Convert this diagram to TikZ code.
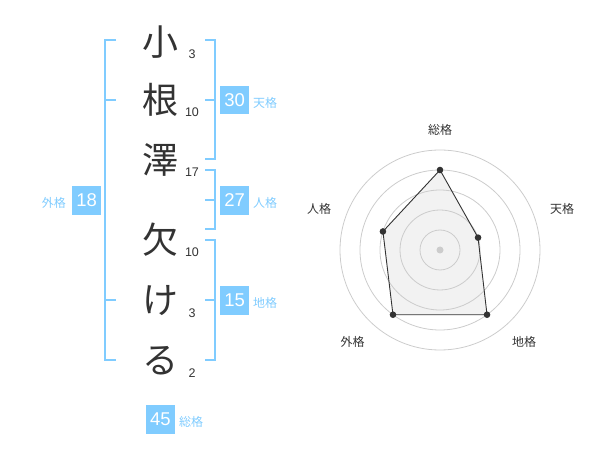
\documentclass[tikz,border=0pt]{standalone}
\usepackage{fontspec}
\setmainfont{Liberation Sans}
\newfontfamily\jp{Noto Sans CJK JP}
\usetikzlibrary{calc,positioning}
\definecolor{kakuBlue}{RGB}{128,204,255}
\definecolor{radarLine}{RGB}{51,51,51}
\definecolor{radarRing}{RGB}{204,204,204}
\definecolor{radarFill}{RGB}{242,242,242}

\tikzset{
  bracketline/.style={draw=kakuBlue, line width=1.8pt},
  kakubox/.style={fill=kakuBlue, text=white, minimum size=28.5pt, inner sep=0pt, font=\fontsize{18.5}{18.5}\selectfont},
  kakulabel/.style={text=kakuBlue, inner sep=1pt, font=\jp\fontsize{12}{12}\selectfont},
  namechar/.style={text=radarLine, inner sep=0pt, font=\jp\fontsize{36}{36}\selectfont},
  strokenum/.style={text=radarLine, inner sep=0pt, font=\fontsize{12.5}{12.5}\selectfont},
  radarlabel/.style={text=radarLine, inner sep=0pt, font=\jp\fontsize{12}{12}\selectfont}
}

\begin{document}
\begin{tikzpicture}[x=1pt,y=-1pt]
  \useasboundingbox (0,0) rectangle (600,470);

      % draw the characters and their strokes
      \foreach \ch/\yy/\st [count=\ni] in {小/42/3, 根/100/10, 澤/160/17, 欠/240/10, け/301/3, る/361/2}
      {
        \node[namechar] (c\ni) at (160,\yy) {\ch};
        \node[strokenum] (s\ni) at (192,\yy+12) {\st};
      }

      % draw the brackets
      \draw[bracketline] (116,40) -- (105,40) -- (105,360) -- (116,360);
      \foreach \yy in {100,300} \draw[bracketline] (105,\yy) -- (116,\yy);
      \foreach \ya/\yb/\ym in {40/159/100, 170/229/200, 240/360/300}
      {
        \draw[bracketline] (205,\ya) -- (215,\ya) -- (215,\yb) -- (205,\yb);
        \draw[bracketline] (215,\ym) -- (205,\ym);
      }

      % draw the boxes of each kaku
      \node[kakubox] (ten) at (234.7,100) {30};
      \node[kakulabel, anchor=west] (tenL) at (252,102.5) {天格};
      \node[kakubox] (jin) at (234.7,200.3) {27};
      \node[kakulabel, anchor=west] (jinL) at (252,202.5) {人格};
      \node[kakubox] (chi) at (234.7,300.3) {15};
      \node[kakulabel, anchor=west] (chiL) at (252,302.5) {地格};
      \node[kakubox] (gai) at (86.7,200.3) {18};
      \node[kakulabel, anchor=east] (gaiL) at (67,202.5) {外格};
      \node[kakubox] (sou) at (160.5,419.5) {45};
      \node[kakulabel, anchor=west] (souL) at (178,422) {総格};

      % the values of the radar
      \coordinate (rc) at (440,250);
      \def\radar{90/80/sou, 18/40/ten, -54/80/chi, -126/80/gai, 162/60/jin}
      \foreach \a/\r/\n in \radar
      \coordinate (p\n) at ($(rc)+({cos(\a)*\r},{-sin(\a)*\r})$);
      \fill[radarFill] (psou) -- (pten) -- (pchi) -- (pgai) -- (pjin) -- cycle;

      % draw the radar rings
      \foreach \r in {20,40,...,100}
      \draw[radarRing, line width=0.8pt] (rc) circle [radius=\r];
      \fill[radarRing] (rc) circle [radius=3.5];

      % draw the path of the values
      \draw[radarLine, line width=0.9pt]
        (psou) -- (pten) -- (pchi) -- (pgai) -- (pjin) -- cycle;
      \foreach \a/\r/\n in \radar
      \fill[radarLine] (p\n) circle [radius=3.3];

      % label all the axes
      \node[radarlabel] (rsou) at (440,130) {総格};
      \node[radarlabel] (rten) at (562,208.5) {天格};
      \node[radarlabel] (rchi) at (524,342) {地格};
      \node[radarlabel] (rgai) at (352.5,342) {外格};
      \node[radarlabel] (rjin) at (319,209) {人格};

\end{tikzpicture}
\end{document}
